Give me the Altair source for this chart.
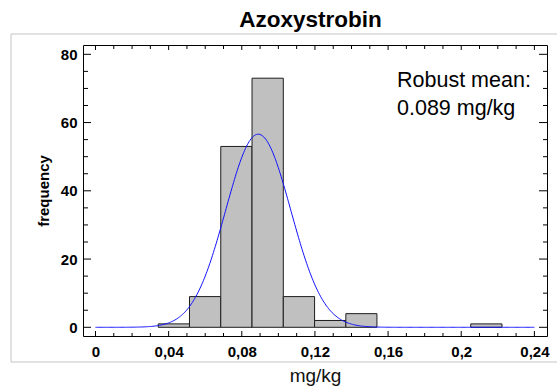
import altair as alt
import pandas as pd

# ---------------- data ----------------
bin_lo = [0.0343, 0.0514, 0.0685, 0.0856, 0.1027, 0.1198, 0.1369, 0.2052]
bin_hi = [0.0514, 0.0685, 0.0856, 0.1027, 0.1198, 0.1369, 0.1539, 0.2223]
counts = [1, 9, 53, 73, 9, 2, 4, 1]

# fitted normal curve parameters
fit_mean = 0.089
fit_sd = 0.0178
fit_area = 2.525          # scaling (count x bin width)
curve_start = 0.0
curve_stop = 0.2401
curve_step = 0.0005

x_major = [0, 0.04, 0.08, 0.12, 0.16, 0.2, 0.24]
x_minor = [0.01, 0.02, 0.03, 0.05, 0.06, 0.07, 0.09, 0.10, 0.11, 0.13, 0.14,
           0.15, 0.17, 0.18, 0.19, 0.21, 0.22, 0.23]
y_major = [0, 20, 40, 60, 80]
y_minor = [5, 10, 15, 25, 30, 35, 45, 50, 55, 65, 70, 75]

title_text = "Azoxystrobin"
x_title = "mg/kg"
y_title = "frequency"
note_lines = ["Robust mean:", "0.089 mg/kg"]

# ---------------- layout ----------------
W, H = 464, 291
FONT = "Liberation Sans"

xscale = alt.Scale(domain=[-0.00683, 0.2469], nice=False, zero=False)
yscale = alt.Scale(domain=[-2.55, 82.73], nice=False, zero=False)

bars_df = pd.DataFrame({"lo": bin_lo, "hi": bin_hi, "count": counts})

frame_box = alt.Chart(pd.DataFrame({"a": [0]})).mark_rect(
    fill="white", fillOpacity=0, stroke="#c4c4c4", strokeWidth=1
).encode(
    x=alt.value(-72), x2=alt.value(480), y=alt.value(-11), y2=alt.value(317)
)

bars = alt.Chart(bars_df).mark_rect(
    fill="#c0c0c0", stroke="#1e1e1e", strokeWidth=1
).encode(
    x=alt.X("lo:Q", scale=xscale, title=x_title,
            axis=alt.Axis(values=x_major, ticks=False, tickSize=0, domain=False, grid=False,
                          labelExpr="replace(format(datum.value, '~g'), '.', ',')",
                          labelFont=FONT, labelFontSize=15, labelFontWeight="bold",
                          labelColor="black", labelPadding=8, labelFlush=False,
                          labelOverlap=False,
                          titleFont=FONT, titleFontSize=19, titleFontWeight="normal",
                          titleColor="#111", titlePadding=7)),
    x2="hi:Q",
    y=alt.Y("count:Q", scale=yscale, title=y_title,
            axis=alt.Axis(values=y_major, ticks=False, tickSize=0, domain=False, grid=False,
                          labelFont=FONT, labelFontSize=15, labelFontWeight="bold",
                          labelColor="black", labelPadding=6, labelFlush=False,
                          titleFont=FONT, titleFontSize=15, titleFontWeight="bold",
                          titleColor="black", titlePadding=9)),
    y2=alt.datum(0),
)

curve = alt.Chart(alt.sequence(curve_start, curve_stop, curve_step, as_="x")).transform_calculate(
    dens=f"{fit_area} * densityNormal(datum.x, {fit_mean}, {fit_sd})"
).mark_line(color="#1010ff", strokeWidth=1).encode(
    x=alt.X("x:Q", scale=xscale),
    y=alt.Y("dens:Q", scale=yscale),
)


def xticks(vals, y0, y1):
    return alt.Chart(pd.DataFrame({"v": vals})).mark_rule(color="black", strokeWidth=1).encode(
        x=alt.X("v:Q", scale=xscale), y=alt.value(y0), y2=alt.value(y1)
    )


def yticks(vals, x0, x1):
    return alt.Chart(pd.DataFrame({"v": vals})).mark_rule(color="black", strokeWidth=1).encode(
        y=alt.Y("v:Q", scale=yscale), x=alt.value(x0), x2=alt.value(x1)
    )


ticks = [
    xticks(x_major, H, H - 5), xticks(x_minor, H, H - 3),
    xticks(x_major, 0, 5), xticks(x_minor, 0, 4),
    yticks(y_major, 0, 8), yticks(y_minor, 0, 5),
    yticks(y_major, W, W - 8), yticks(y_minor, W, W - 4),
]

note = alt.Chart(pd.DataFrame({"a": [0]})).mark_text(
    text=note_lines, align="left", baseline="alphabetic", font=FONT, fontSize=21.5,
    lineHeight=28, color="black"
).encode(x=alt.value(314), y=alt.value(42))

title = alt.Chart(pd.DataFrame({"a": [0]})).mark_text(
    text=title_text, align="center", baseline="alphabetic", font=FONT, fontSize=22.5,
    fontWeight="bold", color="black"
).encode(x=alt.value(227.5), y=alt.value(-18.5))

chart = alt.layer(frame_box, bars, curve, *ticks, note, title).properties(
    width=W, height=H,
    autosize=alt.AutoSizeParams(type="none"),
    padding={"left": 83, "top": 45, "right": 10, "bottom": 53},
).configure_view(stroke="black", strokeWidth=1)

chart.save("out.html", embed_options={"renderer": "svg", "actions": False})
